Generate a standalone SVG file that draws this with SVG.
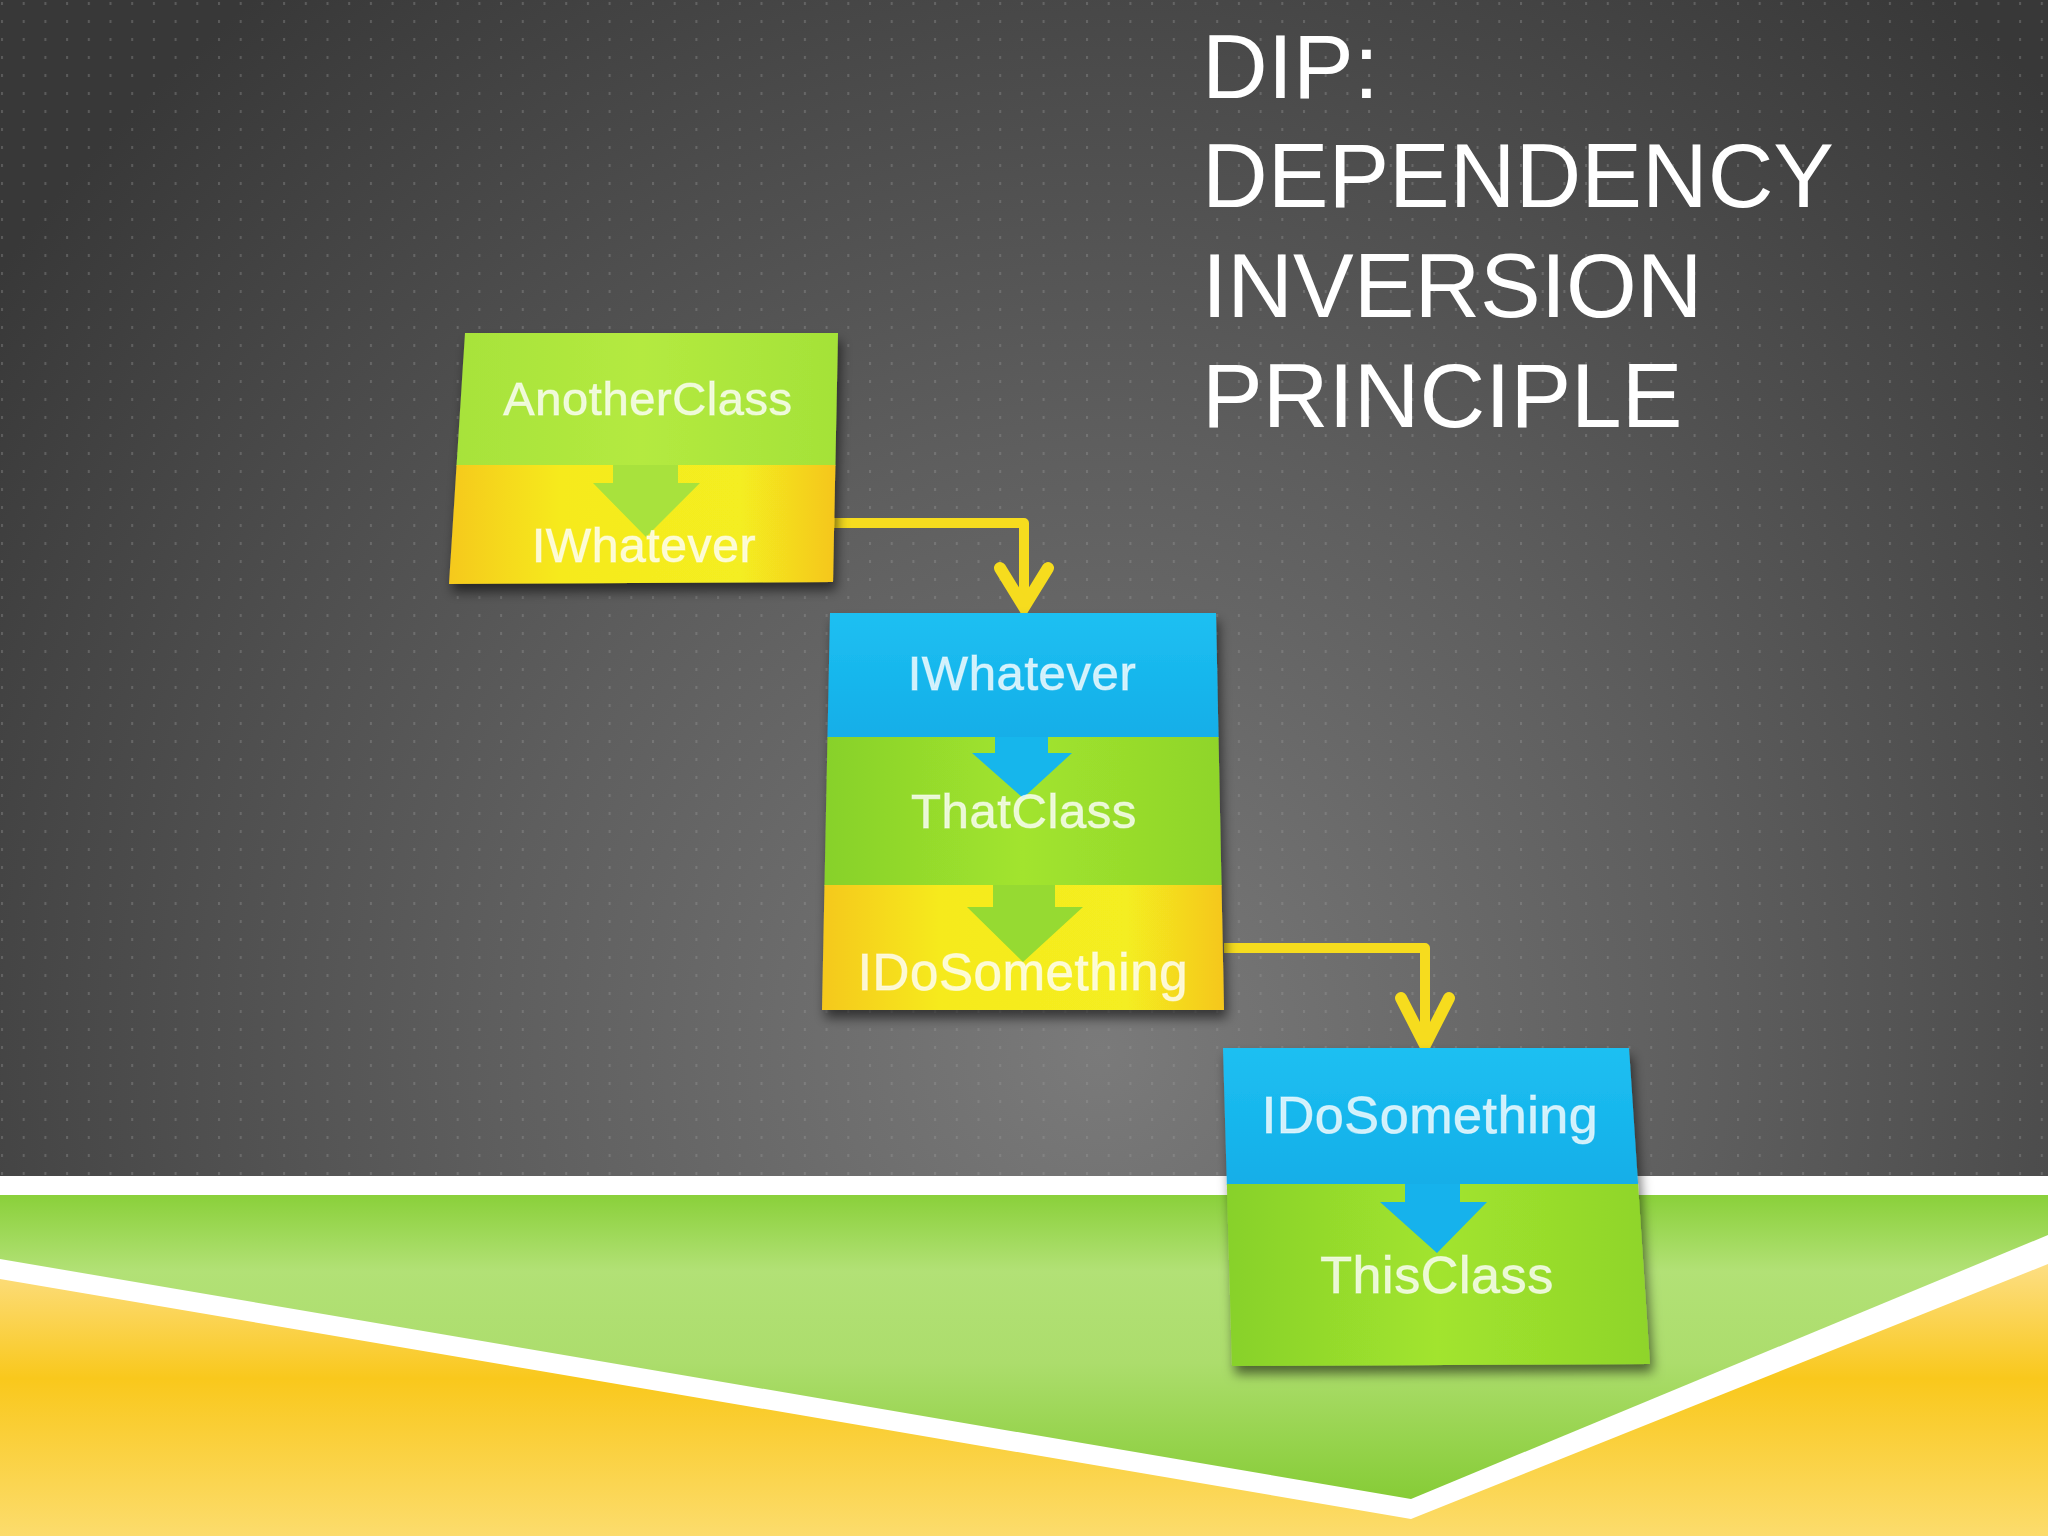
<svg xmlns="http://www.w3.org/2000/svg" width="2048" height="1536" viewBox="0 0 2048 1536">
<defs>
<radialGradient id="bg" gradientUnits="userSpaceOnUse" cx="1100" cy="1050" r="1350">
<stop offset="0" stop-color="#7a7a7a"/>
<stop offset="0.45" stop-color="#5e5e5e"/>
<stop offset="1" stop-color="#383838"/>
</radialGradient>
<pattern id="dots" patternUnits="userSpaceOnUse" width="21.7" height="18">
<rect x="1" y="2" width="2" height="3" fill="#9a9a9a" opacity="0.35"/>
</pattern>
<linearGradient id="gfield" x1="0" y1="1195" x2="0" y2="1500" gradientUnits="userSpaceOnUse">
<stop offset="0" stop-color="#8ad03a"/>
<stop offset="0.25" stop-color="#b2e176"/>
<stop offset="0.55" stop-color="#acdd6c"/>
<stop offset="1" stop-color="#86cc36"/>
</linearGradient>
<linearGradient id="yfield" x1="0" y1="1250" x2="0" y2="1536" gradientUnits="userSpaceOnUse">
<stop offset="0" stop-color="#fde190"/>
<stop offset="0.45" stop-color="#f9c81c"/>
<stop offset="1" stop-color="#fcdc6c"/>
</linearGradient>
<linearGradient id="yel" x1="0" y1="0" x2="1" y2="0">
<stop offset="0" stop-color="#f5c61e"/>
<stop offset="0.3" stop-color="#f6ea1e"/>
<stop offset="0.75" stop-color="#f4ee20"/>
<stop offset="1" stop-color="#f5c41e"/>
</linearGradient>
<linearGradient id="grn" x1="0" y1="0" x2="1" y2="0">
<stop offset="0" stop-color="#86d02a"/>
<stop offset="0.5" stop-color="#a2e42e"/>
<stop offset="1" stop-color="#8ed42a"/>
</linearGradient>
<linearGradient id="grn1" x1="0" y1="0" x2="1" y2="0">
<stop offset="0" stop-color="#a6e23a"/>
<stop offset="0.5" stop-color="#b4ea40"/>
<stop offset="1" stop-color="#a4e238"/>
</linearGradient>
<linearGradient id="blu" x1="0" y1="0" x2="0" y2="1">
<stop offset="0" stop-color="#1ec0f2"/>
<stop offset="1" stop-color="#12aee8"/>
</linearGradient>
<filter id="shadow" x="-10%" y="-10%" width="130%" height="130%">
<feDropShadow dx="3" dy="8" stdDeviation="6" flood-color="#000" flood-opacity="0.55"/>
</filter>
<filter id="soft" x="-5%" y="-20%" width="110%" height="140%">
<feGaussianBlur stdDeviation="0.7"/>
</filter>
<clipPath id="c1"><polygon points="465,333 838,333 833,582 449,584"/></clipPath>
<clipPath id="c2"><polygon points="830,613 1216,613 1224,1010 822,1010"/></clipPath>
<clipPath id="c4"><polygon points="1223,1048 1629,1048 1650,1364 1232,1366"/></clipPath>
</defs>
<style>
.lbl{font-family:"Liberation Sans",Arial,sans-serif;fill:#ffffff;fill-opacity:0.8;stroke:#ffffff;stroke-width:1;stroke-opacity:0.5;text-anchor:middle;letter-spacing:0.6px}
.title{font-family:"Liberation Sans",Arial,sans-serif;fill:#ffffff;font-size:91px}
.conn{fill:none;stroke:#f6dc1e;stroke-width:10;stroke-linejoin:round}
.head{fill:none;stroke:#f6dc1e;stroke-width:12;stroke-linecap:round;stroke-linejoin:miter}
</style>

<!-- background -->
<rect x="0" y="0" width="2048" height="1536" fill="url(#bg)"/>
<rect x="0" y="0" width="2048" height="1178" fill="url(#dots)"/>
<rect x="0" y="1176" width="2048" height="360" fill="#ffffff"/>
<rect x="0" y="1195" width="2048" height="341" fill="url(#yfield)"/>
<polygon points="0,1195 2048,1195 2048,1264 1411,1519 0,1279" fill="#ffffff"/>
<polygon points="0,1195 2048,1195 2048,1235 1411,1499 0,1259" fill="url(#gfield)"/>

<!-- title -->
<g id="title">
<text class="title" x="1202" y="98">DIP:</text>
<text class="title" x="1202" y="207">DEPENDENCY</text>
<text class="title" x="1202" y="317">INVERSION</text>
<text class="title" x="1202" y="427">PRINCIPLE</text>
</g>

<!-- connectors -->
<g id="connectors">
<polyline class="conn" points="833,523 1024,523 1024,604"/>
<polyline class="head" points="1000,568 1024,607 1048,568"/>
<polyline class="conn" points="1224,948 1425,948 1425,1042"/>
<polyline class="head" points="1401,998 1425,1045 1449,998"/>
</g>

<!-- node 1 -->
<g id="node-anotherclass" filter="url(#shadow)">
<g clip-path="url(#c1)">
<rect x="440" y="330" width="400" height="136" fill="url(#grn1)"/>
<rect x="440" y="465" width="400" height="125" fill="url(#yel)"/>
<polygon points="613,465 678,465 678,483 700,483 646,537 593,483 613,483" fill="#a8e23c"/>
<g filter="url(#soft)">
<text class="lbl" x="648" y="415" font-size="47">AnotherClass</text>
<text class="lbl" x="644" y="562" font-size="48">IWhatever</text>
</g>
</g>
</g>

<!-- node 2 -->
<g id="node-thatclass" filter="url(#shadow)">
<g clip-path="url(#c2)">
<rect x="815" y="610" width="415" height="128" fill="url(#blu)"/>
<rect x="815" y="737" width="415" height="149" fill="url(#grn)"/>
<rect x="815" y="885" width="415" height="130" fill="url(#yel)"/>
<polygon points="995,737 1048,737 1048,753 1072,753 1023,798 972,753 995,753" fill="#19b6ec"/>
<polygon points="993,885 1055,885 1055,907 1083,907 1023,962 967,907 993,907" fill="#96da30"/>
<g filter="url(#soft)">
<text class="lbl" x="1022" y="690" font-size="49">IWhatever</text>
<text class="lbl" x="1024" y="828" font-size="49">ThatClass</text>
<text class="lbl" x="1023" y="990" font-size="51">IDoSomething</text>
</g>
</g>
</g>

<!-- node 4 -->
<g id="node-thisclass" filter="url(#shadow)">
<g clip-path="url(#c4)">
<rect x="1215" y="1045" width="445" height="140" fill="url(#blu)"/>
<rect x="1215" y="1184" width="445" height="190" fill="url(#grn)"/>
<polygon points="1405,1184 1460,1184 1460,1202 1487,1202 1437,1253 1380,1202 1405,1202" fill="#14b2ec"/>
<g filter="url(#soft)">
<text class="lbl" x="1430" y="1133" font-size="52">IDoSomething</text>
<text class="lbl" x="1437" y="1293" font-size="52">ThisClass</text>
</g>
</g>
</g>
</svg>
